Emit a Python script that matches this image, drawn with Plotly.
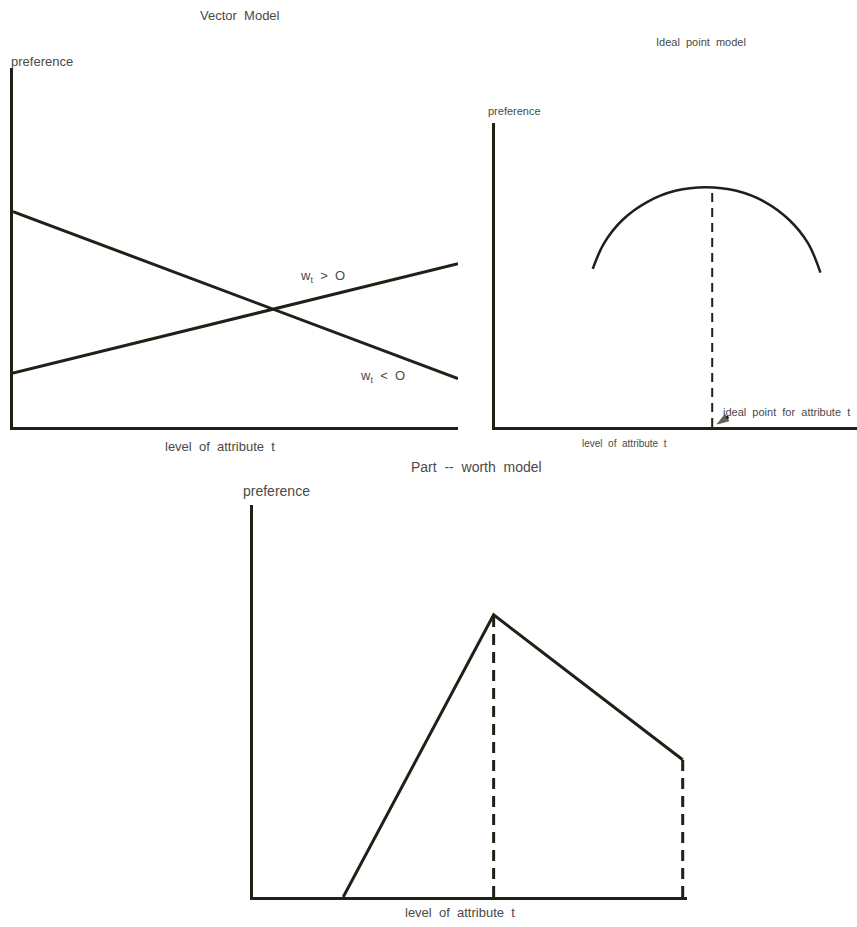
import plotly.graph_objects as go

W, H = 857, 927
INK = "#1c2216"
TXT = "#4a4a4a"
FONT = "Liberation Sans, Arial, sans-serif"

# Vector model: preference is linear in the attribute level
vec_levels = [0, 10]
vec_pos = [1.5, 4.55]   # w_t > 0
vec_neg = [6.0, 1.35]   # w_t < 0

# Ideal point model: preference peaks at the ideal level
ideal_levels = [2.70, 3.01, 3.52, 4.20, 4.98, 5.83, 6.67, 7.46, 8.13, 8.65, 8.99]
ideal_pref = [5.20, 6.04, 6.81, 7.40, 7.77, 7.89, 7.77, 7.40, 6.81, 6.04, 5.08]
ideal_point = 6.0
ideal_peak = 7.88

# Part-worth model: separate preference at each discrete level
pw_levels = [2.1, 5.6, 10.0]
pw_pref = [0.0, 7.2, 3.5]


def px_x(p):
    return p / W


def px_y(p):
    return 1 - p / H


fig = go.Figure()

# --- Vector model (x, y)
fig.add_trace(go.Scatter(x=vec_levels, y=vec_neg, mode="lines",
                         line=dict(color=INK, width=3), cliponaxis=False,
                         xaxis="x", yaxis="y"))
fig.add_trace(go.Scatter(x=vec_levels, y=vec_pos, mode="lines",
                         line=dict(color=INK, width=3), cliponaxis=False,
                         xaxis="x", yaxis="y"))

# --- Ideal point model (x2, y2)
fig.add_trace(go.Scatter(x=ideal_levels, y=ideal_pref, mode="lines",
                         line=dict(color=INK, width=2.5, shape="spline", smoothing=1),
                         cliponaxis=False, xaxis="x2", yaxis="y2"))
fig.add_trace(go.Scatter(x=[ideal_point, ideal_point], y=[0, ideal_peak], mode="lines",
                         line=dict(color=INK, width=2, dash="9px,6px"),
                         cliponaxis=False, xaxis="x2", yaxis="y2"))
# small pointer from the label down to the ideal point on the axis
fig.add_trace(go.Scatter(x=[ideal_point + 0.45, ideal_point + 0.14], y=[0.34, 0.1],
                         mode="lines+markers",
                         line=dict(color=INK, width=3),
                         marker=dict(symbol=["circle", "arrow"], size=[0, 12],
                                     angleref="previous", color=INK,
                                     line=dict(color=INK, width=1)),
                         cliponaxis=False, xaxis="x2", yaxis="y2"))

# --- Part-worth model (x3, y3)
fig.add_trace(go.Scatter(x=pw_levels, y=pw_pref, mode="lines",
                         line=dict(color=INK, width=3), cliponaxis=False,
                         xaxis="x3", yaxis="y3"))
for lv, pr in zip(pw_levels[1:], pw_pref[1:]):
    fig.add_trace(go.Scatter(x=[lv, lv], y=[0, pr], mode="lines",
                             line=dict(color=INK, width=3, dash="11px,7px"),
                             cliponaxis=False, xaxis="x3", yaxis="y3"))

axis_common = dict(showline=True, linecolor=INK, linewidth=3, showgrid=False,
                   zeroline=False, showticklabels=False, ticks="", fixedrange=True)

fig.update_layout(
    width=W, height=H,
    margin=dict(l=0, r=0, t=0, b=0),
    paper_bgcolor="white", plot_bgcolor="white",
    showlegend=False,
    xaxis=dict(domain=[px_x(13), px_x(458)], range=[0, 10], anchor="y", **axis_common),
    yaxis=dict(domain=[px_y(427), px_y(68)], range=[0, 10], anchor="x", **axis_common),
    xaxis2=dict(domain=[px_x(495), px_x(857)], range=[0, 10], anchor="y2", **axis_common),
    yaxis2=dict(domain=[px_y(427), px_y(123)], range=[0, 10], anchor="x2", **axis_common),
    xaxis3=dict(domain=[px_x(253), px_x(687)], range=[0, 10.1], anchor="y3", **axis_common),
    yaxis3=dict(domain=[px_y(897), px_y(505)], range=[0, 10], anchor="x3", **axis_common),
)


def label(text, x, y, size, xanchor="center"):
    fig.add_annotation(text=text, x=px_x(x), y=px_y(y), xref="paper", yref="paper",
                       showarrow=False, xanchor=xanchor, yanchor="middle",
                       font=dict(family=FONT, size=size, color=TXT))


# Vector model texts
label("Vector  Model", 240, 15, 13)
label("preference", 9, 61, 13, xanchor="left")
label("level  of  attribute  t", 220, 447, 13)
fig.add_annotation(text="w<sub>t</sub>  >  O", x=6.95, y=4.2, xref="x", yref="y",
                   showarrow=False, font=dict(family=FONT, size=13, color=TXT))
fig.add_annotation(text="w<sub>t</sub>  <  O", x=8.3, y=1.4, xref="x", yref="y",
                   showarrow=False, font=dict(family=FONT, size=13, color=TXT))

# Ideal point model texts
label("Ideal  point  model", 701, 42, 11)
label("preference", 486, 111, 11, xanchor="left")
label("level  of  attribute  t", 580, 443, 10, xanchor="left")
label("ideal  point  for  attribute  t", 721, 412, 11, xanchor="left")

# Part-worth model texts
label("Part  --  worth  model", 476, 467, 14)
label("preference", 241, 491, 14, xanchor="left")
label("level  of  attribute  t", 403, 912, 13, xanchor="left")

fig.write_html("out.html")
